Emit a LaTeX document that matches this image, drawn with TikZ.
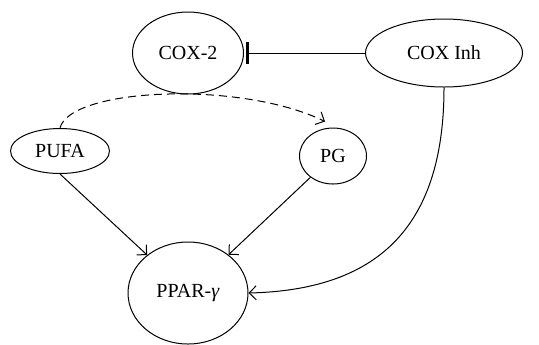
\documentclass[tikz,border=0pt]{standalone}
\usepackage{fontspec}
\setmainfont{Liberation Serif}
\usepackage{tikz}
\usetikzlibrary{shapes,shapes.geometric,arrows.meta,calc,positioning}

\begin{document}
\begin{tikzpicture}[x=0.5pt,y=-0.5pt, arrow/.style = {line width=0.5pt,-{Straight Barb[length=3.5pt,width=7pt]}}, font=\fontsize{10}{12}\selectfont]
		\tikzset{blob/.style={draw,ellipse,inner sep=0pt,line width=0.5pt,align=center}}
		\useasboundingbox (0,0) rectangle (539,344);

		% Top row
		\node[blob, minimum width=55.5pt, minimum height=41pt] (cox2) at (188,53) {COX-2};

		\node[blob, minimum width=78.5pt, minimum height=34pt] (coxinh) at (444,53) {COX Inh};

		% Middle row
		\node[blob, minimum width=49.5pt, minimum height=22.5pt] (pufa) at (60,151) {PUFA};

		\node[blob, minimum width=33.5pt, minimum height=28pt] (pg) at (333,156) {PG};

		% Receptor
		\node[blob, minimum width=60pt, minimum height=51pt] (ppar) at (188,293) {PPAR-\textit{γ}};

		% Arrows
		\draw [line width=0.5pt,-{Bar[width=11pt,line width=1.5pt]}] (coxinh.west) -- ($(cox2.east)+(2,0)$);
		\draw [arrow,dash pattern=on 4pt off 2.5pt] (pufa.north) .. controls (70,88) and (240,80) .. ($(pg.north)+(-8,-6)$);
		\draw [arrow] (pufa.south) -- (ppar);
		\draw [arrow] (pg) -- (ppar);
		\draw [arrow] (coxinh.south) .. controls (444,230) and (375,290) .. (ppar.east);

	\end{tikzpicture}
\end{document}
